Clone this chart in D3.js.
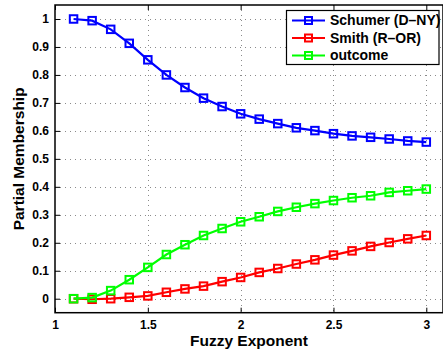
<!DOCTYPE html>
<html>
<head>
<meta charset="utf-8">
<script src="https://cdn.jsdelivr.net/npm/d3@7"></script>
<style>
  body { margin: 0; background: #fff; }
  svg text { font-family: "Liberation Sans", Arial, sans-serif; font-weight: bold; }
</style>
</head>
<body>
<svg id="chart" width="443" height="352"></svg>
<script>
const exponents = [1.1,1.2,1.3,1.4,1.5,1.6,1.7,1.8,1.9,2.0,2.1,2.2,2.3,2.4,2.5,2.6,2.7,2.8,2.9,3.0];
const schumer = [1.0,0.994,0.963,0.913,0.854,0.800,0.755,0.717,0.687,0.661,0.642,0.626,0.611,0.601,0.590,0.582,0.577,0.571,0.564,0.560];
const smith   = [0.0,-0.002,0.0,0.005,0.010,0.023,0.035,0.045,0.061,0.076,0.094,0.108,0.124,0.139,0.156,0.171,0.187,0.201,0.214,0.226];
const outcome = [0.0,0.004,0.029,0.068,0.112,0.158,0.193,0.226,0.251,0.275,0.293,0.312,0.327,0.340,0.351,0.361,0.368,0.380,0.386,0.392];
const seriesNames = ["Schumer (D\u2013NY)", "Smith (R\u2013OR)", "outcome"];
const seriesColors = ["#0000ff", "#ff0000", "#00ff00"];
const xTicks = [1, 1.5, 2, 2.5, 3];
const yTicks = [0,0.1,0.2,0.3,0.4,0.5,0.6,0.7,0.8,0.9,1];
const xLabel = "Fuzzy Exponent";
const yLabel = "Partial Membership";

(function () {
const svg = d3.select("#chart");
const x = d3.scaleLinear().domain([1, 3]).range([55, 426.3]);
const y = d3.scaleLinear().domain([-0.05, 1.05]).range([312.7, 5]);
const xMax = 3.09;
const pL = x(1), pR = x(xMax), pT = y(1.05), pB = y(-0.05);

// grid
const grid = svg.append("g").attr("stroke", "#8a8a8a").attr("stroke-width", 1).attr("stroke-dasharray", "1,4");
yTicks.forEach(t => grid.append("line").attr("x1", pL).attr("x2", pR)
  .attr("y1", Math.round(y(t)) + 0.5).attr("y2", Math.round(y(t)) + 0.5));
xTicks.slice(1).forEach(t => grid.append("line").attr("y1", pT).attr("y2", pB)
  .attr("x1", Math.round(x(t)) + 0.5).attr("x2", Math.round(x(t)) + 0.5));

// axes
const xAxis = d3.axisBottom(x).tickValues(xTicks).tickSizeInner(-5).tickSizeOuter(0).tickPadding(8)
  .tickFormat(d3.format("~g"));
const gx = svg.append("g").attr("transform", `translate(0,${pB})`).call(xAxis);
const xAxisTop = d3.axisTop(x).tickValues(xTicks).tickSizeInner(-5).tickSizeOuter(0).tickFormat("");
const gxt = svg.append("g").attr("transform", `translate(0,${pT})`).call(xAxisTop);
const yAxis = d3.axisLeft(y).tickValues(yTicks).tickSizeInner(-5).tickSizeOuter(0).tickPadding(6)
  .tickFormat(d3.format("~g"));
const gy = svg.append("g").attr("transform", `translate(${pL},0)`).call(yAxis);
[gx, gxt, gy].forEach(g => {
  g.select(".domain").remove();
  g.selectAll("line").attr("stroke", "#000");
  g.selectAll("text").attr("font-size", 12).attr("font-family", "Liberation Sans, Arial, sans-serif")
    .attr("font-weight", "bold").attr("fill", "#000");
});
gx.selectAll("text").attr("dy", "0.71em");

// box
svg.append("rect").attr("x", pL).attr("y", pT).attr("width", pR - pL).attr("height", pB - pT)
  .attr("fill", "none").attr("stroke", "#000").attr("stroke-width", 1.5);

// series
const allSeries = [schumer, smith, outcome];
const line = d3.line().x(d => x(d[0])).y(d => y(d[1]));
allSeries.forEach((vals, i) => {
  const pts = exponents.map((e, j) => [e, vals[j]]);
  const g = svg.append("g");
  g.append("path").datum(pts).attr("d", line).attr("fill", "none")
    .attr("stroke", seriesColors[i]).attr("stroke-width", 2.2);
  g.selectAll("rect").data(pts).join("rect")
    .attr("x", d => x(d[0]) - 3.75).attr("y", d => y(d[1]) - 3.75)
    .attr("width", 7.5).attr("height", 7.5).attr("fill", "none")
    .attr("stroke", seriesColors[i]).attr("stroke-width", 2);
});

// legend
const lg = svg.append("g");
lg.append("rect").attr("x", 286.5).attr("y", 10.5).attr("width", 152.5).attr("height", 54)
  .attr("fill", "#fff").attr("stroke", "#000").attr("stroke-width", 1.2);
const rowY = [20.5, 38, 55.5];
seriesNames.forEach((name, i) => {
  lg.append("line").attr("x1", 292).attr("x2", 325).attr("y1", rowY[i]).attr("y2", rowY[i])
    .attr("stroke", seriesColors[i]).attr("stroke-width", 2.2);
  lg.append("rect").attr("x", 308.5 - 3.5).attr("y", rowY[i] - 3.5).attr("width", 7).attr("height", 7)
    .attr("fill", "none").attr("stroke", seriesColors[i]).attr("stroke-width", 2);
  lg.append("text").attr("x", 330).attr("y", rowY[i]).attr("dy", "0.35em")
    .attr("font-size", 14).text(name);
});

// labels
svg.append("text").attr("x", (pL + pR) / 2).attr("y", 346).attr("text-anchor", "middle")
  .attr("font-size", 15.5).text(xLabel);
svg.append("text").attr("transform", `translate(24,${(pT + pB) / 2}) rotate(-90)`)
  .attr("text-anchor", "middle").attr("font-size", 15.5).text(yLabel);
})();
</script>
</body>
</html>
